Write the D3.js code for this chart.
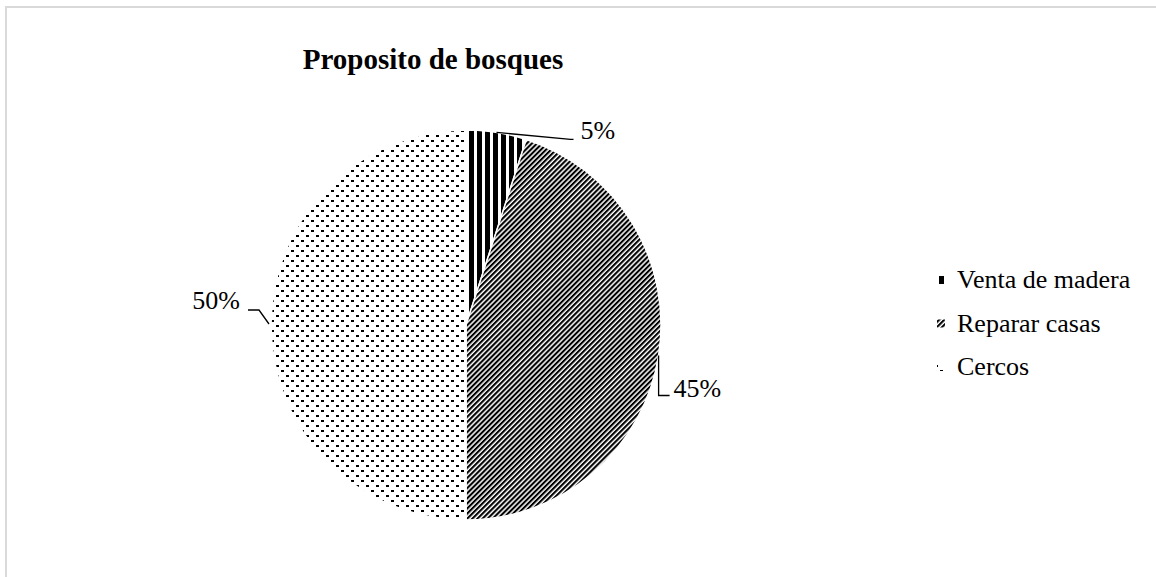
<!DOCTYPE html>
<html><head><meta charset="utf-8">
<script src="https://cdn.jsdelivr.net/npm/d3@7"></script>
<style>html,body{margin:0;padding:0;background:#fff;}svg{display:block;}</style>
</head><body>
<script>
const categories = ["Venta de madera", "Reparar casas", "Cercos"];
const values = [5, 45, 50];
const valueLabels = ["5%", "45%", "50%"];
const title = "Proposito de bosques";

const W = 1156, H = 577;
const cx = 466, cy = 325, R = 195;
const font = "'Liberation Serif','Times New Roman',serif";

const svg = d3.select("body").append("svg").attr("width", W).attr("height", H);
svg.append("rect").attr("width", W).attr("height", H).attr("fill", "#fff");
svg.append("rect").attr("x", 6).attr("y", 7).attr("width", W + 50).attr("height", H + 50)
  .attr("fill", "none").attr("stroke", "#d9d9d9").attr("stroke-width", 2);

const defs = svg.append("defs");
// vertical stripes
const p0 = defs.append("pattern").attr("id", "pat0").attr("patternUnits", "userSpaceOnUse")
  .attr("width", 8).attr("height", 8).attr("x", 467);
p0.append("rect").attr("width", 8).attr("height", 8).attr("fill", "#fff");
p0.append("rect").attr("x", 0).attr("width", 5).attr("height", 8).attr("fill", "#000");
// wide upward diagonal
const p1 = defs.append("pattern").attr("id", "pat1").attr("patternUnits", "userSpaceOnUse")
  .attr("width", 3.6).attr("height", 8).attr("patternTransform", "rotate(45)");
p1.append("rect").attr("width", 3.6).attr("height", 8).attr("fill", "#fff");
p1.append("rect").attr("width", 2.1).attr("height", 8).attr("fill", "#000");
// dotted
const p2 = defs.append("pattern").attr("id", "pat2").attr("patternUnits", "userSpaceOnUse")
  .attr("width", 10).attr("height", 10);
p2.append("rect").attr("width", 10).attr("height", 10).attr("fill", "#fff");
p2.append("rect").attr("x", 0).attr("y", 0).attr("width", 3).attr("height", 2).attr("fill", "#000");
p2.append("rect").attr("x", 5).attr("y", 5).attr("width", 3).attr("height", 2).attr("fill", "#000");

const fills = ["url(#pat0)", "url(#pat1)", "url(#pat2)"];

const pie = d3.pie().sort(null).value(d => d)(values);
const arc = d3.arc().innerRadius(0).outerRadius(R);

const g = svg.append("g").attr("transform", `translate(${cx},${cy})`);
g.selectAll("path.slice").data(pie).join("path").attr("class", "slice")
  .attr("d", arc).attr("fill", (d, i) => fills[i])
  .attr("stroke", "#fff").attr("stroke-width", 1.5);

// leader lines & labels (offsets relative to anchor on arc)
const labelLayout = [
  { pts: [[0, 0], [74, 7], [77, 7]], tx: 84, ty: 7, anchor: "start" },
  { pts: [[0, 0], [0, 40], [11, 40]], tx: 15, ty: 41, anchor: "start" },
  { pts: [[-2, -1], [-12, -15], [-23, -15]], tx: -31, ty: -16, anchor: "end" }
];
pie.forEach((d, i) => {
  const a = (d.startAngle + d.endAngle) / 2;
  const ax = R * Math.sin(a), ay = -R * Math.cos(a);
  const L = labelLayout[i];
  g.append("polyline")
    .attr("points", L.pts.map(p => [ax + p[0], ay + p[1]].join(",")).join(" "))
    .attr("fill", "none").attr("stroke", "#000").attr("stroke-width", 1.3);
  g.append("text").attr("x", ax + L.tx).attr("y", ay + L.ty)
    .attr("text-anchor", L.anchor).attr("font-family", font).attr("font-size", 26)
    .attr("fill", "#000").text(valueLabels[i]);
});

// title
svg.append("text").attr("x", 433).attr("y", 69).attr("text-anchor", "middle")
  .attr("font-family", font).attr("font-weight", "bold").attr("font-size", 29)
  .attr("fill", "#000").text(title);

// legend
const leg = svg.append("g");
categories.forEach((c, i) => {
  const y = 288 + i * 43.5;
  leg.append("rect").attr("x", 937).attr("y", y - 12).attr("width", 8).attr("height", 8)
    .attr("fill", fills[i]);
  leg.append("text").attr("x", 957).attr("y", y).attr("font-family", font)
    .attr("font-size", 26).attr("fill", "#000").text(c);
});
</script>
</body></html>
